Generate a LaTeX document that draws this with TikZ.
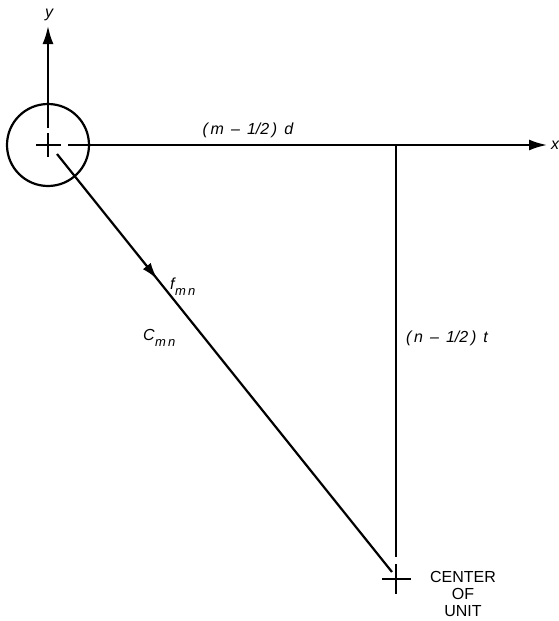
\documentclass[tikz,border=0pt]{standalone}
\usepackage{fontspec}
\setmainfont{Liberation Sans}
\usetikzlibrary{arrows.meta,decorations.markings}
\begin{document}
\begin{tikzpicture}[x=1pt,y=-1pt,
  ln/.style={line width=2.2pt},
  tip/.style={-{Latex[length=18pt,width=11pt]}},
  lbl/.style={font=\fontsize{16}{18}\selectfont\itshape, inner sep=0pt},
  sub/.style={font=\fontsize{13}{15}\selectfont\itshape, inner sep=0pt},
  captext/.style={font=\fontsize{16}{17}\selectfont, inner sep=0pt, align=center}]
\useasboundingbox (0,0) rectangle (559,621);
\coordinate (O) at (48,145);
\coordinate (Yt) at (48,26);
\coordinate (Ya) at (48,128);
\coordinate (Xs) at (68,145);
\coordinate (Xt) at (547,145);
\coordinate (P) at (396,145);
\coordinate (Pb) at (396,557);
\coordinate (C) at (396,579);
\coordinate (Ds) at (57,154);
\coordinate (De) at (392,572);
% circle
\draw[ln] (O) circle[radius=41];
% origin cross
\draw[ln] (36,145) -- (61,145);
\draw[ln] (48,133) -- (48,157);
% y axis
\draw[ln,tip] (Ya) -- (Yt);
\node[lbl] (ylab) at (49,15) {y};
% x axis
\draw[ln,tip] (Xs) -- (Xt);
\node[lbl] (xlab) at (555,145) {x};
% vertical
\draw[ln] (P) -- (Pb);
% center cross
\draw[ln] (382,579) -- (411,579);
\draw[ln] (C) ++(0,-15) -- ++(0,30);
% diagonal with arrow
\draw[ln, decoration={markings, mark=at position 0.3 with {\arrow{Latex[length=17pt,width=10pt]}}}, postaction={decorate}] (Ds) -- (De);
% labels
\node[lbl] (mlab) at (248,130) {(\,m \,\textendash\, 1/2\,)\, d};
\node[lbl] (nlab) at (447,338) {(\,n \,\textendash\, 1/2\,)\, t};
\node[lbl,anchor=west] (flab) at (170,284) {f};
\node[sub,anchor=west] (fsub) at (175,292) {m\,n};
\node[lbl,anchor=west] (clab) at (143,335) {C};
\node[sub,anchor=west] (csub) at (155,343) {m\,n};
\node[captext] (ctr) at (463,594) {CENTER\\OF\\UNIT};
\end{tikzpicture}
\end{document}
